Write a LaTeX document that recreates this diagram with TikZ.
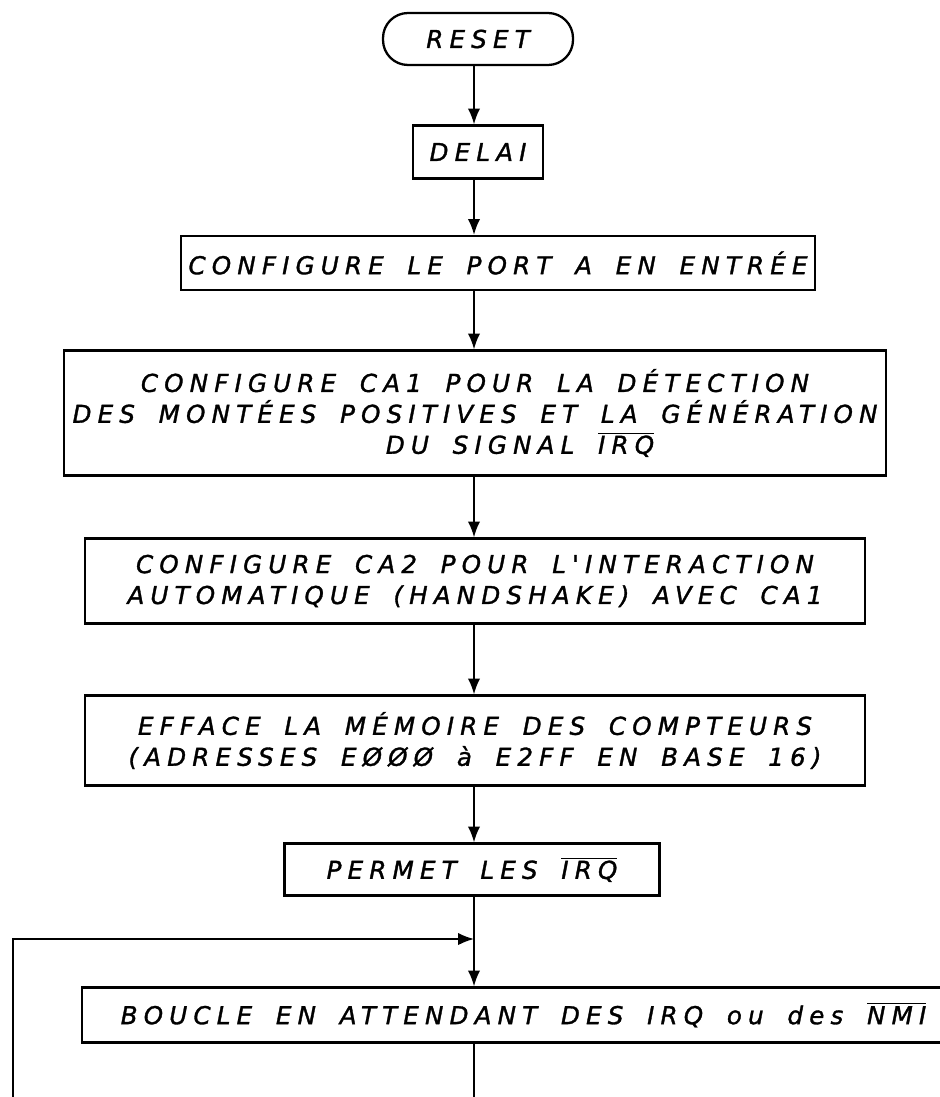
\documentclass[tikz,border=0pt]{standalone}
\usepackage{fontspec}
\newfontfamily\handfont{DejaVu Sans}[LetterSpace=25,WordSpace=1.7,FakeBold=1.3]
\usetikzlibrary{shapes,arrows.meta}

\begin{document}
\begin{tikzpicture}[auto, node distance=3cm, >={Latex[length=9pt,width=7pt]}]
  %define block styles
  \tikzset{
    startstop/.style={rectangle, rounded corners=0.5cm, minimum width=3.8cm, minimum height=1.04cm, text centered, draw=black, line width=1.3pt, font=\handfont\itshape\fontsize{14}{17.6}\selectfont},
    process/.style={rectangle, minimum height=1.06cm, align=center, inner sep=2pt, draw=black, line width=1.3pt, font=\handfont\itshape\fontsize{14}{17.6}\selectfont},
    arrow/.style={line width=1pt,->},
  }
  \useasboundingbox (0,0) rectangle (18.78,-21.94);
  %define nodes
  \node[startstop] (reset) at (9.56,-0.78) {RESET};
  \node[process, minimum width=2.6cm, below of=reset, yshift=0.74cm] (delai) {DELAI};
  \node[process, minimum width=12.68cm, minimum height=1.08cm, below of=delai, xshift=0.4cm, yshift=0.78cm] (portA) {CONFIGURE LE PORT A EN ENTRÉE};
  \node[process, minimum width=15.6cm, minimum height=2.5cm, inner xsep=5pt, below of=portA, xshift=-0.46cm] (ca1) {CONFIGURE CA1 POUR LA DÉTECTION\\
    DES MONTÉES POSITIVES ET LA GÉNÉRATION\\
    \hspace*{1.8cm}DU SIGNAL $\overline{\mbox{IRQ}}$};
  \node[process, minimum width=15.6cm, minimum height=1.7cm, below of=ca1, yshift=-0.36cm] (ca2) {CONFIGURE CA2 POUR L'INTERACTION\\
    AUTOMATIQUE (HANDSHAKE) AVEC CA1};
  \node[process, minimum width=15.6cm, minimum height=1.8cm, below of=ca2, yshift=-0.19cm] (efface) {EFFACE LA MÉMOIRE DES COMPTEURS\\
    (ADRESSES EØØØ à E2FF EN BASE 16)};
  \node[process, minimum width=7.5cm, minimum height=1.04cm, below of=efface, xshift=-0.06cm, yshift=0.42cm] (permet) {PERMET LES $\overline{\mbox{IRQ}}$};
  \node[process, minimum width=17.36cm, minimum height=1.1cm, below of=permet, xshift=0.88cm, yshift=0.09cm] (boucle) {\hspace*{0.3cm}BOUCLE EN ATTENDANT DES IRQ ou des $\overline{\mbox{NMI}}$};
  \coordinate (spine) at (9.48,0);
  \coordinate (join) at (9.48,-18.78);
  \coordinate (loopfoot) at (0.26,-22.2);
  \coordinate (exit) at (9.48,-22.2);
  %define arrows
  \draw[arrow] (reset.south -| spine) -- (delai.north -| spine);
  \draw[arrow] (delai.south -| spine) -- (portA.north -| spine);
  \draw[arrow] (portA.south -| spine) -- (ca1.north -| spine);
  \draw[arrow] (ca1.south -| spine) -- (ca2.north -| spine);
  \draw[arrow] (ca2.south -| spine) -- (efface.north -| spine);
  \draw[arrow] (efface.south -| spine) -- (permet.north -| spine);
  \draw[line width=1pt] (permet.south -| spine) -- (join);
  \draw[arrow] (join) -- (boucle.north -| spine);
  \draw[arrow] (loopfoot) |- (join);
  \draw[line width=1pt] (boucle.south -| spine) -- (exit);
\end{tikzpicture}
\end{document}
